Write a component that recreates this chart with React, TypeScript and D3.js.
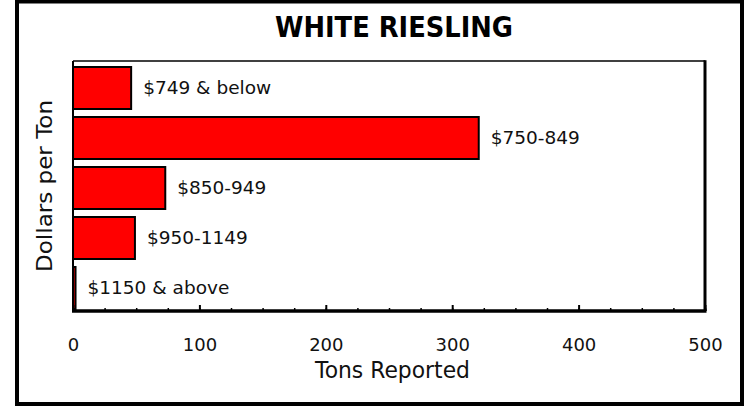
import React, { useEffect, useRef } from "react";
import * as d3 from "d3";

// price brackets, top to bottom
const categories = [
  "$749 & below",
  "$750-849",
  "$850-949",
  "$950-1149",
  "$1150 & above",
];
// tons reported per bracket
const tons = [46, 321, 73, 49, 2];
const majorTicks = [0, 100, 200, 300, 400, 500];

const WIDTH = 745;
const HEIGHT = 406;

const App = () => {
  const chartRef = useRef<SVGSVGElement>(null);

  const drawChart = () => {
    const svg = d3.select(chartRef.current);
    svg.selectAll("*").remove();

    const left = 73;
    const right = 705;
    const top = 61;
    const bottom = 311;
    const font = "'DejaVu Sans', Verdana, sans-serif";

    const x = d3.scaleLinear().domain([0, 500]).range([left, right]);
    const y = d3
      .scaleBand()
      .domain(categories)
      .range([top + 2, bottom + 2])
      .paddingInner(0.16)
      .paddingOuter(0.08);

    // outer frame
    svg
      .append("rect")
      .attr("x", 17)
      .attr("y", 1.5)
      .attr("width", 725)
      .attr("height", 402.5)
      .attr("fill", "white")
      .attr("stroke", "black")
      .attr("stroke-width", 4);

    // title
    svg
      .append("text")
      .attr("x", 394)
      .attr("y", 37)
      .attr("text-anchor", "middle")
      .attr("font-family", font)
      .attr("font-weight", "bold")
      .attr("font-size", 29)
      .attr("textLength", 238)
      .attr("lengthAdjust", "spacingAndGlyphs")
      .text("WHITE RIESLING");

    // plot box: thin top/left, thick right
    svg
      .append("line")
      .attr("x1", left)
      .attr("x2", right)
      .attr("y1", top)
      .attr("y2", top)
      .attr("stroke", "black")
      .attr("stroke-width", 1.6);
    svg
      .append("line")
      .attr("x1", left)
      .attr("x2", left)
      .attr("y1", top)
      .attr("y2", bottom)
      .attr("stroke", "black")
      .attr("stroke-width", 2);
    svg
      .append("line")
      .attr("x1", right)
      .attr("x2", right)
      .attr("y1", top - 0.8)
      .attr("y2", bottom)
      .attr("stroke", "black")
      .attr("stroke-width", 3);

    // bars
    svg
      .selectAll(".bar")
      .data(tons)
      .join("rect")
      .attr("class", "bar")
      .attr("x", x(0))
      .attr("y", (d, i) => y(categories[i]))
      .attr("width", (d) => x(d) - x(0))
      .attr("height", y.bandwidth())
      .attr("fill", "#ff0000")
      .attr("stroke", "black")
      .attr("stroke-width", 2);

    // bar labels
    svg
      .selectAll(".lbl")
      .data(tons)
      .join("text")
      .attr("class", "lbl")
      .attr("x", (d) => x(d) + 12)
      .attr("y", (d, i) => y(categories[i]) + y.bandwidth() / 2 - 1)
      .attr("dy", "0.36em")
      .attr("font-family", font)
      .attr("font-size", 18.5)
      .attr("fill", "#111")
      .text((d, i) => categories[i]);

    // minor ticks
    const minor = d3
      .axisBottom(x)
      .tickValues(d3.range(0, 501, 25))
      .tickSize(-3)
      .tickFormat(() => "");
    svg
      .append("g")
      .attr("transform", `translate(0,${bottom})`)
      .call(minor)
      .call((g) => g.select(".domain").remove())
      .call((g) => g.selectAll("line").attr("stroke-width", 1.5));

    // major ticks + labels
    const xAxis = d3
      .axisBottom(x)
      .tickValues(majorTicks)
      .tickSizeInner(-6)
      .tickSizeOuter(0)
      .tickPadding(27);
    svg
      .append("g")
      .attr("transform", `translate(0,${bottom})`)
      .call(xAxis)
      .call((g) => g.select(".domain").remove())
      .call((g) => g.selectAll("line").attr("stroke-width", 2))
      .call((g) =>
        g
          .selectAll("text")
          .attr("font-family", font)
          .attr("font-size", 18)
          .attr("fill", "#111")
      );

    // x axis baseline
    svg
      .append("line")
      .attr("x1", left - 1)
      .attr("x2", right + 1.5)
      .attr("y1", bottom)
      .attr("y2", bottom)
      .attr("stroke", "black")
      .attr("stroke-width", 3.5);

    // axis titles
    svg
      .append("text")
      .attr("x", 392.5)
      .attr("y", 378)
      .attr("text-anchor", "middle")
      .attr("font-family", font)
      .attr("font-size", 23)
      .attr("textLength", 155)
      .attr("lengthAdjust", "spacingAndGlyphs")
      .attr("fill", "#111")
      .text("Tons Reported");

    svg
      .append("text")
      .attr("transform", "translate(52,186) rotate(-90)")
      .attr("text-anchor", "middle")
      .attr("font-family", font)
      .attr("font-size", 22)
      .attr("textLength", 172)
      .attr("lengthAdjust", "spacingAndGlyphs")
      .attr("fill", "#111")
      .text("Dollars per Ton");
  };

  useEffect(() => {
    drawChart();
  }, []);

  return (
    <svg
      ref={chartRef}
      width={WIDTH}
      height={HEIGHT}
      style={{ position: "absolute", left: 0, top: 0, background: "white" }}
    ></svg>
  );
};

export default App;
